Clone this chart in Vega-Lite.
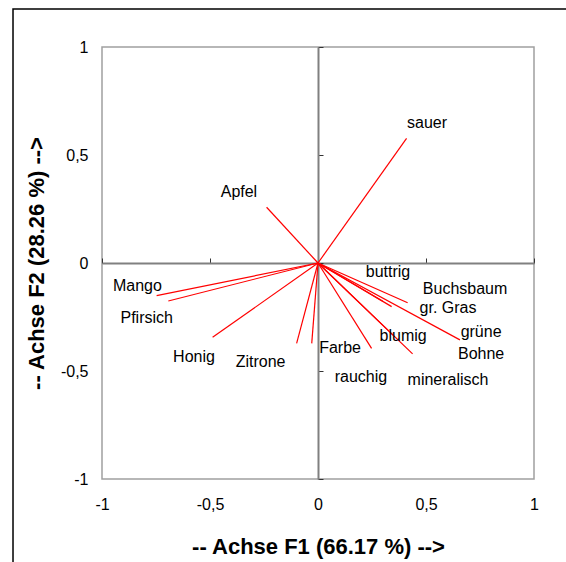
{
  "$schema": "https://vega.github.io/schema/vega-lite/v6.json",
  "width": 432,
  "height": 432,
  "autosize": "none",
  "padding": {"left": 102, "top": 47, "right": 32, "bottom": 83},
  "background": "white",
  "config": {
    "view": {"stroke": "#a0a0a0", "strokeWidth": 1.5},
    "font": "Liberation Sans"
  },
  "data": {
    "values": [
      {"name": "sauer", "x": 0.41, "y": 0.577, "lx": 0.505, "ly": 0.648},
      {"name": "Apfel", "x": -0.238, "y": 0.258, "lx": -0.366, "ly": 0.329},
      {"name": "Mango", "x": -0.747, "y": -0.151, "lx": -0.836, "ly": -0.106},
      {"name": "Pfirsich", "x": -0.693, "y": -0.176, "lx": -0.793, "ly": -0.255},
      {"name": "Honig", "x": -0.488, "y": -0.344, "lx": -0.574, "ly": -0.435},
      {"name": "Zitrone", "x": -0.099, "y": -0.372, "lx": -0.266, "ly": -0.458},
      {"name": "Farbe", "x": -0.029, "y": -0.372, "lx": 0.102, "ly": -0.394},
      {"name": "rauchig", "x": 0.248, "y": -0.395, "lx": 0.199, "ly": -0.528},
      {"name": "mineralisch", "x": 0.438, "y": -0.421, "lx": 0.602, "ly": -0.542},
      {"name": "blumig", "x": 0.35, "y": -0.336, "lx": 0.394, "ly": -0.338},
      {"name": "buttrig", "x": 0.3, "y": -0.177, "lx": 0.324, "ly": -0.042},
      {"name": "Buchsbaum", "x": 0.415, "y": -0.184, "lx": 0.681, "ly": -0.12},
      {"name": "gr. Gras", "x": 0.341, "y": -0.202, "lx": 0.602, "ly": -0.208},
      {"name": "grüne\nBohne", "x": 0.657, "y": -0.356, "lx": 0.755, "ly": -0.319}
    ]
  },
  "resolve": {"axis": {"x": "independent", "y": "independent"}},
  "layer": [
    {
      "data": {"values": [{}]},
      "mark": {"type": "rect", "fill": "transparent", "stroke": "black", "strokeWidth": 1.5},
      "encoding": {
        "x": {"datum": -1.412, "type": "quantitative", "scale": {"domain": [-1, 1], "nice": false, "zero": false}, "axis": null},
        "x2": {"datum": 1.6},
        "y": {"datum": 1.176, "type": "quantitative", "scale": {"domain": [-1, 1], "nice": false, "zero": false}, "axis": null},
        "y2": {"datum": -1.6}
      }
    },
    {
      "mark": {"type": "rule", "color": "#ff0000", "strokeWidth": 1.2},
      "encoding": {
        "x": {
          "field": "x", "type": "quantitative",
          "scale": {"domain": [-1, 1], "nice": false, "zero": false},
          "axis": {
            "values": [-1, -0.5, 0, 0.5, 1],
            "domain": false, "ticks": false, "tickSize": 0, "grid": false,
            "labelPadding": 17, "labelFontSize": 16, "labelColor": "black",
            "labelFlush": false, "labelOverlap": false,
            "labelExpr": "replace(toString(datum.value), '.', ',')",
            "title": "-- Achse F1 (66.17 %) -->",
            "titleFontSize": 22, "titleFontWeight": "bold", "titleColor": "black", "titlePadding": 24
          }
        },
        "y": {
          "field": "y", "type": "quantitative",
          "scale": {"domain": [-1, 1], "nice": false, "zero": false},
          "axis": {
            "values": [-1, -0.5, 0, 0.5, 1],
            "domain": false, "ticks": false, "tickSize": 0, "grid": false,
            "labelPadding": 14, "labelFontSize": 16, "labelColor": "black",
            "labelFlush": false, "labelOverlap": false,
            "labelExpr": "replace(toString(datum.value), '.', ',')",
            "title": "-- Achse F2 (28.26 %) -->",
            "titleFontSize": 22, "titleFontWeight": "bold", "titleColor": "black", "titlePadding": 12
          }
        },
        "x2": {"datum": 0},
        "y2": {"datum": 0}
      }
    },
    {
      "mark": {"type": "text", "fontSize": 16, "lineBreak": "\n", "lineHeight": 22, "color": "black", "align": "center", "baseline": "middle"},
      "encoding": {
        "x": {
          "field": "lx", "type": "quantitative",
          "scale": {"domain": [-1, 1], "nice": false, "zero": false},
          "axis": {
            "values": [-1, -0.5, 0, 0.5, 1], "offset": -216,
            "domain": true, "domainColor": "#808080", "domainWidth": 2,
            "ticks": true, "tickColor": "#333333", "tickSize": 5, "tickWidth": 1,
            "labels": false, "grid": false, "title": null
          }
        },
        "y": {
          "field": "ly", "type": "quantitative",
          "scale": {"domain": [-1, 1], "nice": false, "zero": false},
          "axis": {
            "values": [-1, -0.5, 0, 0.5, 1], "offset": -216,
            "domain": true, "domainColor": "#808080", "domainWidth": 2,
            "ticks": true, "tickColor": "#333333", "tickSize": 5, "tickWidth": 1,
            "labels": false, "grid": false, "title": null
          }
        },
        "text": {"field": "name"}
      }
    }
  ]
}
